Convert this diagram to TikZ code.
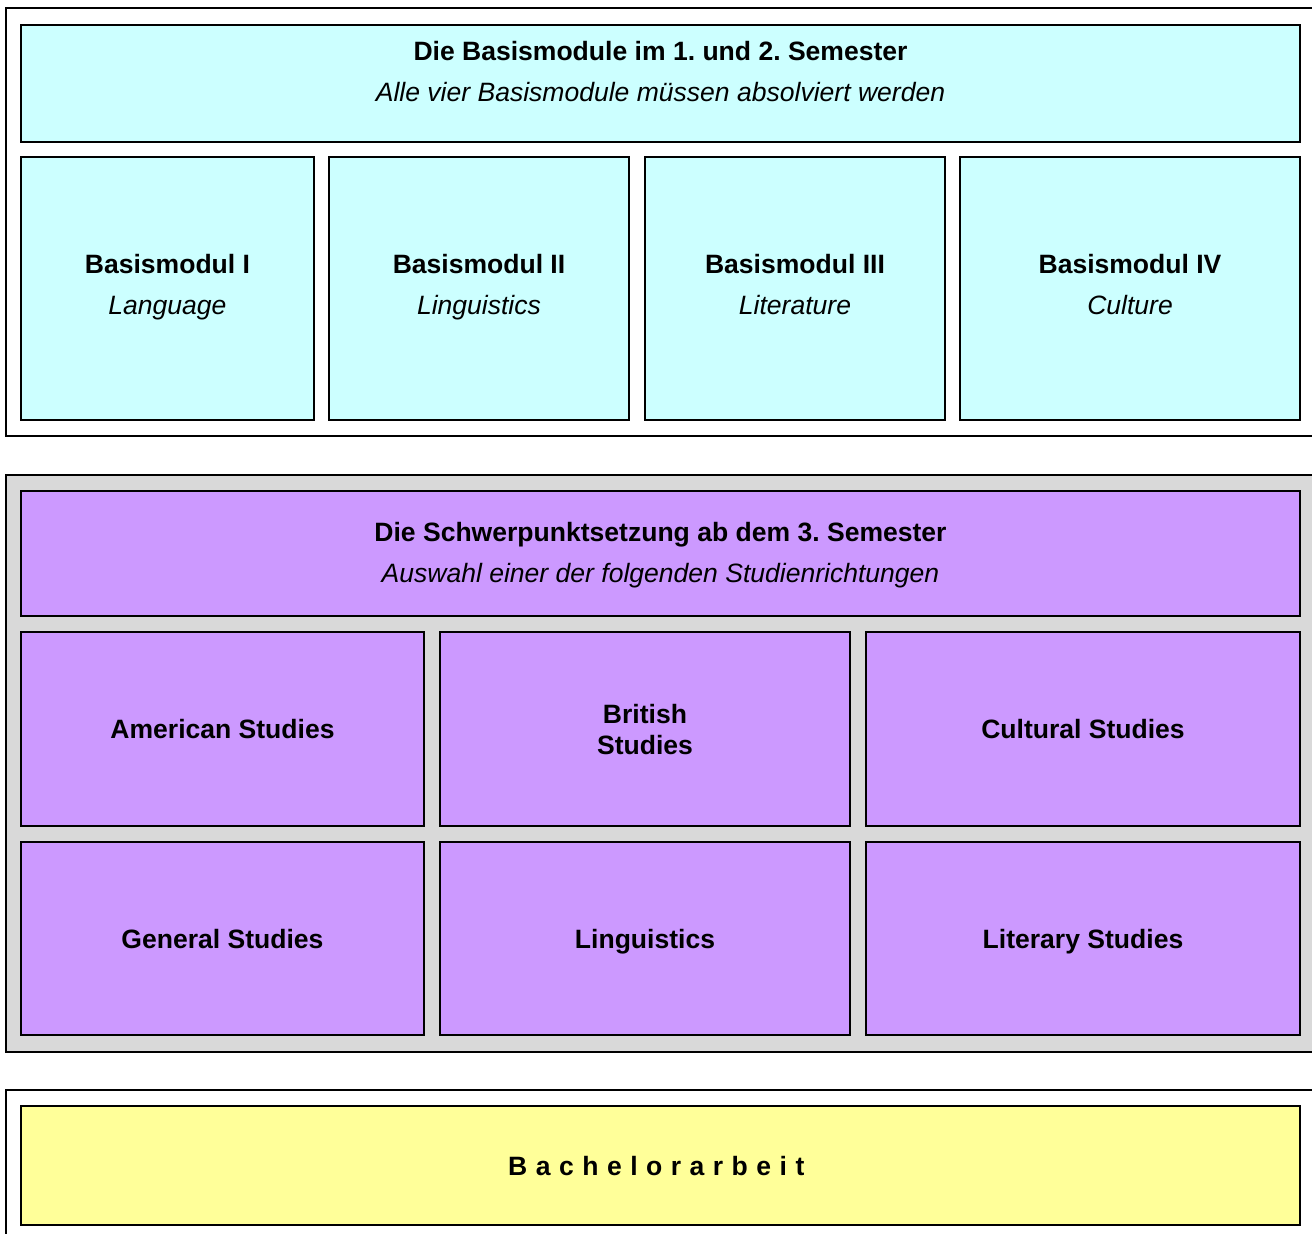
\documentclass[tikz,border=0pt]{standalone}
\usepackage{fontspec}
\setmainfont{Liberation Sans}
\usetikzlibrary{fit}
\frenchspacing

\definecolor{basiscyan}{HTML}{CCFFFF}
\definecolor{schwerlila}{HTML}{CC99FF}
\definecolor{bagelb}{HTML}{FFFF99}
\definecolor{rahmengrau}{HTML}{D9D9D9}

\tikzset{
    frame/.style={draw=black, line width=1.6pt},
    modbox/.style={draw=black, line width=1.6pt, inner sep=0pt},
    basis/.style={modbox, fill=basiscyan},
    schwer/.style={modbox, fill=schwerlila},
    arbeit/.style={modbox, fill=bagelb},
    txt/.style={align=center, inner sep=0pt, font=\fontsize{19.9}{30.75}\selectfont}
}

\begin{document}
\begin{tikzpicture}[x=0.75pt, y=-0.75pt]
        \useasboundingbox (0,0) rectangle (1312,1233);
        \begin{scope}
        \clip (0,0) rectangle (1312,1233);

        % outer frames
        \draw[frame, fill=white] (6,8) rectangle (1330,436);
        \draw[frame, fill=rahmengrau] (6,475) rectangle (1330,1052);
        \draw[frame, fill=white] (6,1090) rectangle (1330,1260);

        % Basismodule
        \node[basis, fit={(21,25) (1300,142)}] (hdrbasis) {};
        \node[basis, fit={(21,157) (314,420)}] (bmone) {};
        \node[basis, fit={(329,157) (629,420)}] (bmtwo) {};
        \node[basis, fit={(645,157) (945,420)}] (bmthree) {};
        \node[basis, fit={(960,157) (1300,420)}] (bmfour) {};

        \node[txt] (hdrbasistxt) at ([yshift=8pt]hdrbasis.center)
            {\strut\textbf{Die Basismodule im 1. und 2. Semester}\\
             \strut\textit{Alle vier Basismodule müssen absolviert werden}};
        \node[txt] (bmonetxt) at ([yshift=2pt]bmone.center)
            {\strut\textbf{Basismodul I}\\\strut\textit{Language}};
        \node[txt] (bmtwotxt) at ([yshift=2pt]bmtwo.center)
            {\strut\textbf{Basismodul II}\\\strut\textit{Linguistics}};
        \node[txt] (bmthreetxt) at ([yshift=2pt]bmthree.center)
            {\strut\textbf{Basismodul III}\\\strut\textit{Literature}};
        \node[txt] (bmfourtxt) at ([yshift=2pt]bmfour.center)
            {\strut\textbf{Basismodul IV}\\\strut\textit{Culture}};

        % Schwerpunkte
        \node[schwer, fit={(21,491) (1300,616)}] (hdrschwer) {};
        \node[schwer, fit={(21,632) (424,826)}] (amstud) {};
        \node[schwer, fit={(440,632) (850,826)}] (brstud) {};
        \node[schwer, fit={(866,632) (1300,826)}] (custud) {};
        \node[schwer, fit={(21,842) (424,1035)}] (genstud) {};
        \node[schwer, fit={(440,842) (850,1035)}] (ling) {};
        \node[schwer, fit={(866,842) (1300,1035)}] (litstud) {};

        \node[txt] (hdrschwertxt) at (hdrschwer.center)
            {\strut\textbf{Die Schwerpunktsetzung ab dem 3. Semester}\\
             \strut\textit{Auswahl einer der folgenden Studienrichtungen}};
        \node[txt] (amstudtxt) at ([yshift=-1pt]amstud.center) {\strut\textbf{American Studies}};
        \node[txt, font=\fontsize{19.9}{23.25}\selectfont] (brstudtxt) at (brstud.center)
            {\textbf{British}\\\textbf{Studies}};
        \node[txt] (custudtxt) at ([yshift=-1pt]custud.center) {\strut\textbf{Cultural Studies}};
        \node[txt] (genstudtxt) at ([yshift=-1pt]genstud.center) {\strut\textbf{General Studies}};
        \node[txt] (lingtxt) at ([yshift=-1pt]ling.center) {\strut\textbf{Linguistics}};
        \node[txt] (litstudtxt) at ([yshift=-1pt]litstud.center) {\strut\textbf{Literary Studies}};

        % Bachelorarbeit
        \node[arbeit, fit={(21,1106) (1300,1225)}] (bacharb) {};
        \node[txt] (bacharbtxt) at ([yshift=-1pt]bacharb.center)
            {\strut\addfontfeatures{LetterSpace=32}\textbf{Bachelorarbeit}};
        \end{scope}
\end{tikzpicture}
\end{document}
